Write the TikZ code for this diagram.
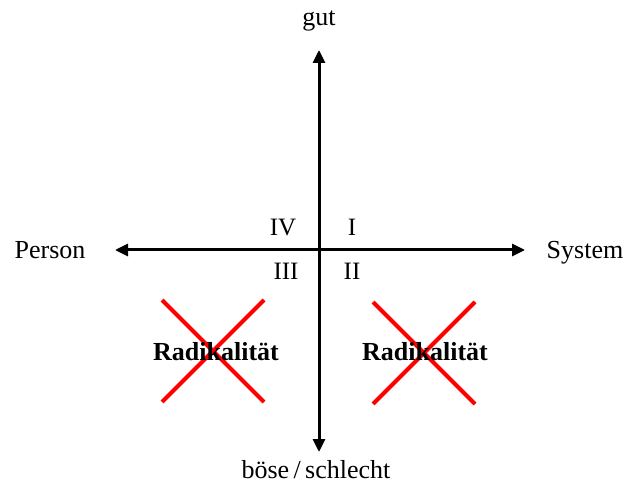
\documentclass[tikz,border=0pt]{standalone}
\usepackage{fontspec}
\setmainfont{Liberation Serif}
\usepackage{tikz}
\usetikzlibrary{positioning, arrows.meta}
\definecolor{CrossRed}{RGB}{255,0,0}
\tikzset{
  axis/.style={{Triangle[length=13pt,width=12pt]}-{Triangle[length=13pt,width=12pt]}, line width=3pt, black},
  axlab/.style={font=\fontsize{26}{29}\selectfont, inner sep=1pt, anchor=base},
  quadlab/.style={font=\fontsize{25}{28}\selectfont, inner sep=1pt, anchor=base},
  cross/.style={line width=4pt, CrossRed},
  radlab/.style={font=\fontsize{26}{29}\selectfont\bfseries, inner sep=1pt, anchor=base},
}
\begin{document}
\begin{tikzpicture}[x=1pt, y=-1pt]
  \useasboundingbox (0,0) rectangle (624,486);
  % axes
  \coordinate (top) at (319,50);
  \coordinate (bot) at (319,452);
  \coordinate (lft) at (115,250);
  \coordinate (rgt) at (525,250);
  \draw[axis] (bot) -- (top);
  \draw[axis] (lft) -- (rgt);
  \node[axlab] (gut) at (319,26) {gut};
  \node[axlab] (boese) at (316,478) {böse\,/\,schlecht};
  \node[axlab] (person) at (50,259) {Person};
  \node[axlab] (system) at (585,259) {System};
  % quadrants
  \node[quadlab] (q4) at (283,236) {IV};
  \node[quadlab] (q1) at (352,236) {I};
  \node[quadlab] (q3) at (286,280) {III};
  \node[quadlab] (q2) at (352,280) {II};
  % crossed out
  \foreach \nm/\cx/\cy in {l/213/351, r/424/353} {
    \coordinate (\nm a) at (\cx-51,\cy-51);
    \coordinate (\nm b) at (\cx+51,\cy+51);
    \coordinate (\nm c) at (\cx+51,\cy-51);
    \coordinate (\nm d) at (\cx-51,\cy+51);
    \draw[cross] (\nm a) -- (\nm b);
    \draw[cross] (\nm c) -- (\nm d);
  }
  \node[radlab] (radl) at (216,360) {Radikalität};
  \node[radlab] (radr) at (425,360) {Radikalität};
\end{tikzpicture}
\end{document}
